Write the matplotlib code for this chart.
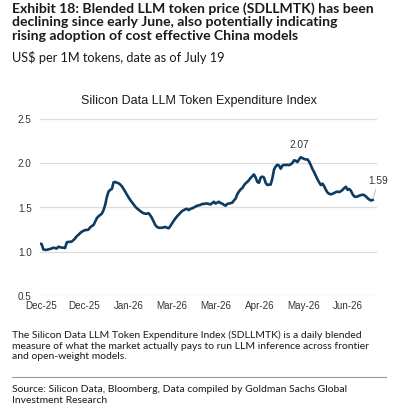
import numpy as np
import matplotlib.pyplot as plt

# daily index values
values = [
    1.09, 1.085, 1.025, 1.02, 1.02, 1.025, 1.03, 1.035, 1.045, 1.04,
    1.035, 1.055, 1.05, 1.045, 1.045, 1.04, 1.105, 1.11, 1.11, 1.115,
    1.13, 1.15, 1.175, 1.19, 1.21, 1.225, 1.235, 1.245, 1.245, 1.25,
    1.275, 1.29, 1.30, 1.34, 1.38, 1.40, 1.415, 1.43, 1.47, 1.53,
    1.62, 1.68, 1.70, 1.71, 1.785, 1.79, 1.78, 1.775, 1.76, 1.74,
    1.71, 1.68, 1.645, 1.615, 1.585, 1.56, 1.535, 1.51, 1.49, 1.475,
    1.46, 1.445, 1.435, 1.43, 1.43, 1.435, 1.41, 1.38, 1.34, 1.30,
    1.28, 1.27, 1.27, 1.27, 1.275, 1.28, 1.27, 1.265, 1.29, 1.32,
    1.35, 1.375, 1.40, 1.42, 1.44, 1.46, 1.47, 1.48, 1.485, 1.47,
    1.485, 1.49, 1.50, 1.51, 1.52, 1.525, 1.53, 1.54, 1.54, 1.545,
    1.545, 1.54, 1.535, 1.55, 1.565, 1.545, 1.555, 1.565, 1.55, 1.545,
    1.53, 1.52, 1.54, 1.545, 1.55, 1.555, 1.58, 1.60, 1.65, 1.68,
    1.705, 1.72, 1.75, 1.775, 1.79, 1.81, 1.835, 1.855, 1.875, 1.84,
    1.79, 1.78, 1.84, 1.85, 1.84, 1.78, 1.755, 1.76, 1.76, 1.83,
    1.93, 1.965, 1.985, 1.975, 1.94, 1.975, 1.985, 1.98, 1.985, 1.98,
    1.99, 2.005, 2.035, 2.03, 2.015, 2.045, 2.07, 2.06, 2.05, 2.045,
    2.045, 2.02, 1.98, 1.935, 1.90, 1.86, 1.82, 1.785, 1.755, 1.77,
    1.74, 1.70, 1.67, 1.655, 1.65, 1.655, 1.665, 1.675, 1.68, 1.675,
    1.685, 1.70, 1.72, 1.735, 1.70, 1.71, 1.69, 1.65, 1.625, 1.62,
    1.625, 1.635, 1.64, 1.645, 1.64, 1.625, 1.605, 1.59, 1.58, 1.585,
]
tick_pos = [0.6, 26.6, 53, 79, 105.4, 131.6, 158, 184.4]
tick_labels = ['Dec-25', 'Dec-25', 'Jan-26', 'Mar-26', 'Mar-26', 'Apr-26', 'May-26', 'Jun-26']
y_ticks = [0.5, 1.0, 1.5, 2.0, 2.5]
peak_label = '2.07'
last_label = '1.59'

W, H = 407, 413
fig = plt.figure(figsize=(W / 100, H / 100), dpi=100)

def fy(px):
    return 1 - px / H

body = ['Lato', 'DejaVu Sans']
arial = ['Liberation Sans', 'DejaVu Sans']
ink = '#1a1a1a'

fig.text(12 / W, fy(2), 'Exhibit 18: Blended LLM token price (SDLLMTK) has been\n'
         'declining since early June, also potentially indicating\n'
         'rising adoption of cost effective China models',
         family=body, fontweight='bold', fontsize=10.1, color=ink, va='top',
         linespacing=1.17)
fig.text(12 / W, fy(51), 'US$ per 1M tokens, date as of July 19',
         family=body, fontsize=9.2, color=ink, va='top')

x = np.arange(len(values))
ax = fig.add_axes([40 / W, fy(295.7), 337 / W, (295.7 - 119.3) / H])
ax.plot(x, values, color='#0d3b61', lw=1.9, solid_joinstyle='round')
ax.set_xlim(0, 201.6)
ax.set_ylim(0.5, 2.5)
ax.set_yticks(y_ticks)
ax.set_yticklabels([f'{v:.1f}' for v in y_ticks])
ax.set_xticks(tick_pos)
ax.set_xticklabels(tick_labels)
ax.grid(axis='y', color='#dcdcdc', lw=0.9)
ax.set_axisbelow(True)
for s in ax.spines.values():
    s.set_visible(False)
ax.tick_params(length=0, labelsize=7.1, labelcolor='#333333')
ax.tick_params(axis='y', pad=6)
ax.tick_params(axis='x', pad=4)
for lab in ax.get_xticklabels() + ax.get_yticklabels():
    lab.set_family(arial)
fig.text(199 / W, fy(101), 'Silicon Data LLM Token Expenditure Index', family=arial,
         fontsize=9.0, color=ink, ha='center', va='center')

ip = int(np.argmax(values))
ax.annotate(peak_label, (ip, values[ip]), xytext=(-1, 5), textcoords='offset points',
            ha='center', va='bottom', fontsize=7.3, color='#333333', family=arial)
il = len(values) - 1
ax.annotate(last_label, (il, values[il]), xytext=(4, 10), textcoords='offset points',
            ha='center', va='bottom', fontsize=7.3, color='#333333', family=arial,
            arrowprops=dict(arrowstyle='-', color='#bbbbbb', lw=0.6,
                            shrinkA=0, shrinkB=2))

fig.text(12 / W, fy(330.5), 'The Silicon Data LLM Token Expenditure Index (SDLLMTK) is a daily blended\n'
         'measure of what the market actually pays to run LLM inference across frontier\n'
         'and open-weight models.',
         family=body, fontsize=7.5, color=ink, va='top', linespacing=1.22)
fig.add_artist(plt.Line2D([12 / W, 386 / W], [fy(376.7), fy(376.7)], color='#999999', lw=0.8))
fig.text(12 / W, fy(385.5), 'Source: Silicon Data, Bloomberg, Data compiled by Goldman Sachs Global\n'
         'Investment Research',
         family=body, fontsize=7.5, color=ink, va='top', linespacing=1.22)

fig.savefig('out.png', dpi=100)
